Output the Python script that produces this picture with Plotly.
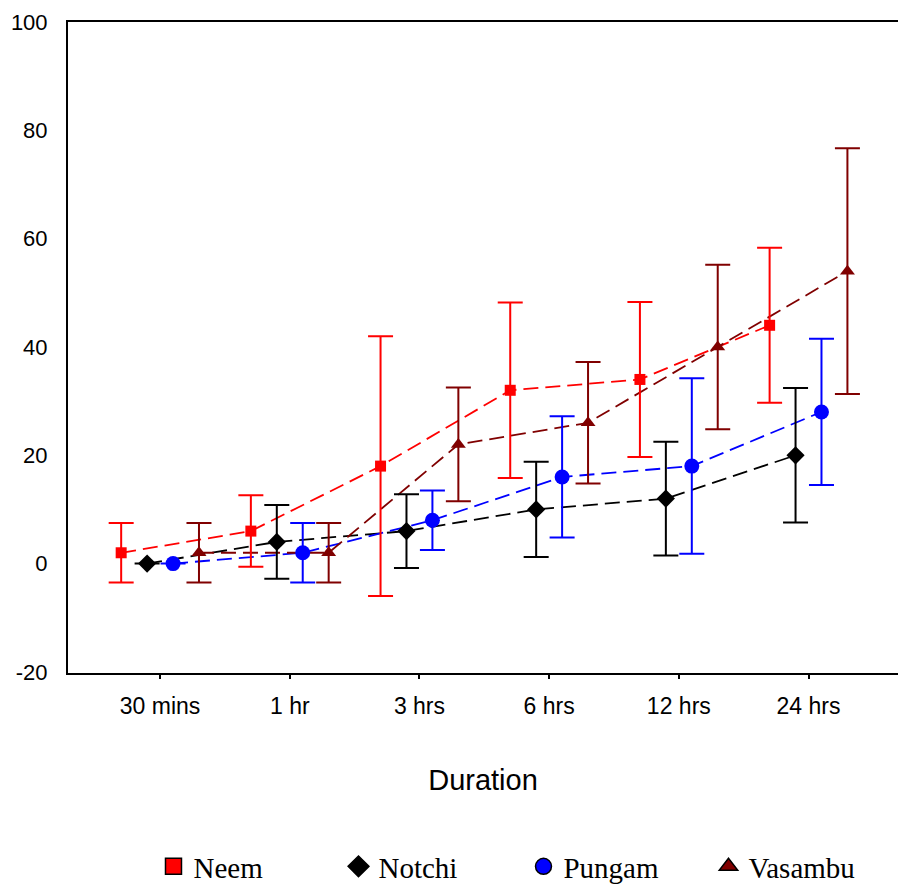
import plotly.graph_objects as go

categories = ["30 mins", "1 hr", "3 hrs", "6 hrs", "12 hrs", "24 hrs"]
series_names = ["Neem", "Notchi", "Pungam", "Vasambu"]

neem = [2, 6, 18, 32, 34, 44]
neem_err = [5.5, 6.6, 24, 16.2, 14.3, 14.3]
notchi = [0, 4, 6, 10, 12, 20]
notchi_err = [0, 6.8, 6.8, 8.8, 10.5, 12.4]
pungam = [0, 2, 8, 16, 18, 28]
pungam_err = [0, 5.5, 5.5, 11.2, 16.2, 13.5]
vasambu = [2, 2, 22, 26, 40, 54]
vasambu_err = [5.5, 5.5, 10.5, 11.2, 15.2, 22.7]

y_ticks = [-20, 0, 20, 40, 60, 80, 100]
y_tick_labels = ["-20", "0", "20", "40", "60", "80", "100"]

offsets = [-0.3, -0.1, 0.1, 0.3]
colors = ["#ff0000", "#000000", "#0000ff", "#800000"]
symbols = ["square", "diamond", "circle", "triangle-up"]
sizes = [11, 14, 15, 13]
values = [neem, notchi, pungam, vasambu]
errors = [neem_err, notchi_err, pungam_err, vasambu_err]

fig = go.Figure()
# dashed connecting lines
for name, off, col, vals in zip(series_names, offsets, colors, values):
    xs = [i + off for i in range(len(categories))]
    fig.add_trace(go.Scatter(
        x=xs, y=vals, mode="lines", showlegend=False, hoverinfo="skip",
        line=dict(color=col, width=1.8, dash="15px,7px"),
    ))
# markers with error bars
for name, off, col, sym, sz, vals, errs in zip(series_names, offsets, colors, symbols, sizes, values, errors):
    xs = [i + off for i in range(len(categories))]
    fig.add_trace(go.Scatter(
        x=xs, y=vals, name=name, mode="markers", showlegend=False,
        marker=dict(symbol=sym, size=sz, color=col, line=dict(width=0)),
        error_y=dict(type="data", array=errs, visible=True, color=col, thickness=2, width=12.5),
    ))
# legend entries (outlined symbols, as in the original key)
for name, col, sym in zip(series_names, colors, symbols):
    fig.add_trace(go.Scatter(
        x=[None], y=[None], name=name, mode="markers", showlegend=True,
        marker=dict(symbol=sym, size=16, color=col, line=dict(width=1.5, color="black")),
    ))

fig.update_layout(
    width=898, height=892,
    margin=dict(l=68, r=0, t=22, b=214),
    plot_bgcolor="white", paper_bgcolor="white",
    font=dict(family="Liberation Sans, Arial", size=22, color="black"),
    showlegend=True,
    legend=dict(
        orientation="h", x=0.103, xanchor="left", y=-0.298, yanchor="middle",
        font=dict(family="Liberation Serif, Times New Roman", size=29, color="black"),
        itemsizing="trace", entrywidth=140, entrywidthmode="pixels",
        bgcolor="rgba(0,0,0,0)",
    ),
    xaxis=dict(
        range=[-0.71, 5.69], tickmode="array", tickvals=list(range(len(categories))),
        ticktext=categories, showline=True, linecolor="black", linewidth=2, mirror=True,
        ticks="outside", ticklen=4, tickwidth=2, tickcolor="black", showgrid=False,
        zeroline=False, ticklabelstandoff=7, automargin=False,
        tickfont=dict(size=23),
        title=dict(text="Duration", font=dict(size=29), standoff=52),
    ),
    yaxis=dict(
        range=[-20.2, 100], tickmode="array", tickvals=y_ticks, ticktext=y_tick_labels,
        showline=True, linecolor="black", linewidth=2, mirror=False,
        ticks="", showgrid=False, zeroline=False, ticklabelstandoff=14, automargin=False,
    ),
)

fig.write_html("out.html", config={"displayModeBar": False},
               post_script="document.body.style.margin='0px';document.body.style.overflow='hidden';")
